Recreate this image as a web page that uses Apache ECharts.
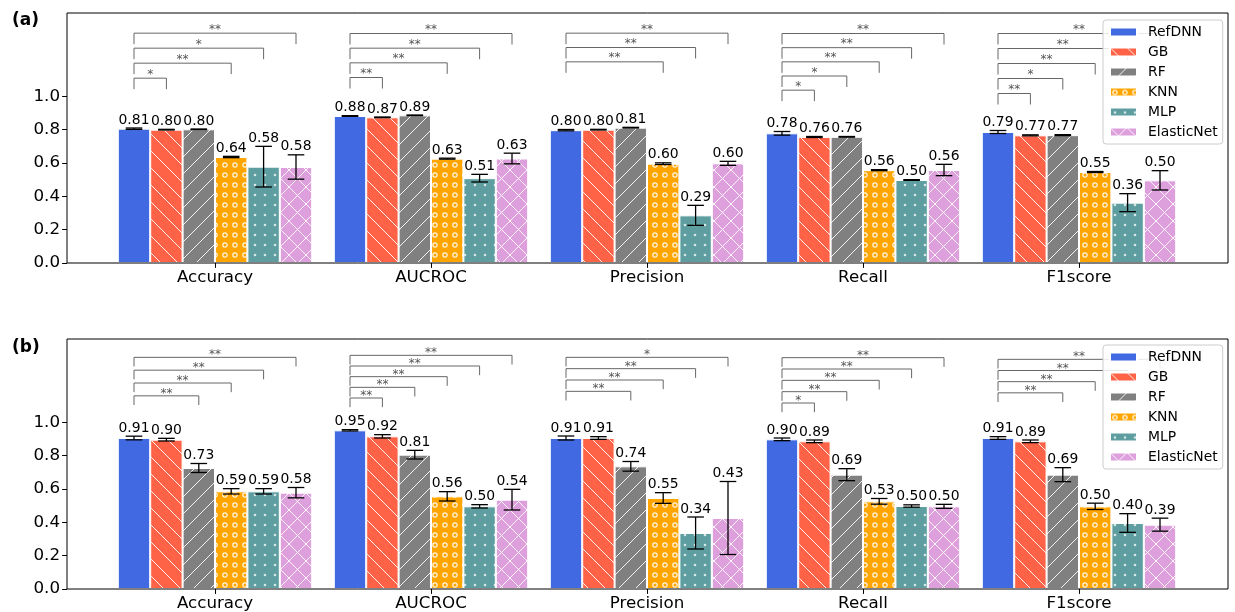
<!DOCTYPE html>
<html>
<head>
<meta charset="utf-8">
<script src="https://cdn.jsdelivr.net/npm/echarts@6/dist/echarts.min.js"></script>
<style>
  html, body { margin: 0; padding: 0; background: #fff; }
  #chart { width: 1235px; height: 612px; }
</style>
</head>
<body>
<div id="chart"></div>
<script>
const categories = ['Accuracy', 'AUCROC', 'Precision', 'Recall', 'F1score'];
const models = ['RefDNN', 'GB', 'RF', 'KNN', 'MLP', 'ElasticNet'];
const yTicks = [0, 0.2, 0.4, 0.6, 0.8, 1.0];

// panel (a) means and errors, one array per model (metric order as categories)
const aRefDNN = [0.806, 0.882, 0.797, 0.778, 0.786];
const aGB = [0.800, 0.874, 0.800, 0.756, 0.766];
const aRF = [0.802, 0.886, 0.812, 0.757, 0.767];
const aKNN = [0.636, 0.626, 0.596, 0.557, 0.546];
const aMLP = [0.578, 0.509, 0.286, 0.498, 0.362];
const aEN = [0.576, 0.627, 0.598, 0.558, 0.496];
const aRefDNNErr = [0.004, 0.002, 0.004, 0.011, 0.009];
const aGBErr = [0.002, 0.002, 0.002, 0.003, 0.003];
const aRFErr = [0.002, 0.002, 0.002, 0.002, 0.003];
const aKNNErr = [0.004, 0.003, 0.005, 0.003, 0.003];
const aMLPErr = [0.122, 0.023, 0.060, 0.002, 0.054];
const aENErr = [0.073, 0.032, 0.012, 0.034, 0.058];

// panel (b)
const bRefDNN = [0.906, 0.952, 0.906, 0.898, 0.906];
const bGB = [0.896, 0.916, 0.906, 0.886, 0.886];
const bRF = [0.726, 0.806, 0.736, 0.686, 0.686];
const bKNN = [0.586, 0.556, 0.546, 0.526, 0.496];
const bMLP = [0.586, 0.496, 0.336, 0.498, 0.396];
const bEN = [0.578, 0.536, 0.426, 0.496, 0.386];
const bRefDNNErr = [0.011, 0.004, 0.012, 0.008, 0.008];
const bGBErr = [0.008, 0.010, 0.008, 0.008, 0.008];
const bRFErr = [0.027, 0.026, 0.029, 0.036, 0.042];
const bKNNErr = [0.016, 0.028, 0.032, 0.017, 0.019];
const bMLPErr = [0.016, 0.010, 0.096, 0.007, 0.056];
const bENErr = [0.031, 0.062, 0.219, 0.012, 0.039];

// significance brackets: RefDNN vs model index, with stars
const aSigTargets = [[1, 3, 4, 5], [1, 3, 4, 5], [3, 4, 5], [1, 2, 3, 4, 5], [1, 2, 3, 4, 5]];
const aSigStars = [['*', '**', '*', '**'], ['**', '**', '**', '**'], ['**', '**', '**'],
  ['*', '*', '**', '**', '**'], ['**', '*', '**', '**', '**']];
const aSigTop = [1.379, 1.377, 1.379, 1.377, 1.377];
const aSigStep = [0.090, 0.088, 0.086, 0.085, 0.090];

const bSigTargets = [[2, 3, 4, 5], [1, 2, 3, 4, 5], [2, 3, 4, 5], [1, 2, 3, 4, 5], [2, 3, 4, 5]];
const bSigStars = [['**', '**', '**', '**'], ['**', '**', '**', '**', '**'], ['**', '**', '**', '*'],
  ['*', '**', '**', '**', '**'], ['**', '**', '**', '**']];
const bSigTop = [1.390, 1.402, 1.390, 1.388, 1.378];
const bSigStep = [0.077, 0.064, 0.068, 0.068, 0.067];

const FONT = 'DejaVu Sans';
const BAR_FRAC = 0.15;

function pattern(bg, size, draw) {
  const c = document.createElement('canvas');
  c.width = size;
  c.height = size;
  const ctx = c.getContext('2d');
  ctx.fillStyle = bg;
  ctx.fillRect(0, 0, size, size);
  ctx.strokeStyle = 'rgba(255,255,255,0.9)';
  ctx.fillStyle = 'rgba(255,255,255,0.75)';
  ctx.lineWidth = 1;
  draw(ctx, size);
  return { image: c, repeat: 'repeat' };
}
const back = (ctx, s) => {
  ctx.beginPath();
  [-s, 0, s].forEach(k => { ctx.moveTo(k, 0); ctx.lineTo(k + s, s); });
  ctx.stroke();
};
const fwd = (ctx, s) => {
  ctx.beginPath();
  [-s, 0, s].forEach(k => { ctx.moveTo(k, s); ctx.lineTo(k + s, 0); });
  ctx.stroke();
};

const fills = [
  '#4169E1',
  pattern('#FF6347', 17, back),
  pattern('#808080', 17, fwd),
  pattern('#FFA500', 10, (ctx, s) => {
    ctx.lineWidth = 1.2;
    ctx.beginPath(); ctx.arc(s / 2, s / 2, 2.2, 0, Math.PI * 2); ctx.stroke();
  }),
  pattern('#5F9EA0', 10, (ctx, s) => {
    ctx.beginPath(); ctx.arc(s / 2, s / 2, 1.3, 0, Math.PI * 2); ctx.fill();
  }),
  pattern('#DDA0DD', 17, (ctx, s) => { back(ctx, s); fwd(ctx, s); })
];

const panels = [
  { means: [aRefDNN, aGB, aRF, aKNN, aMLP, aEN], errs: [aRefDNNErr, aGBErr, aRFErr, aKNNErr, aMLPErr, aENErr],
    sigT: aSigTargets, sigS: aSigStars, sigTop: aSigTop, sigStep: aSigStep, legH: 0.066, starDy: -3.5 },
  { means: [bRefDNN, bGB, bRF, bKNN, bMLP, bEN], errs: [bRefDNNErr, bGBErr, bRFErr, bKNNErr, bMLPErr, bENErr],
    sigT: bSigTargets, sigS: bSigStars, sigTop: bSigTop, sigStep: bSigStep, legH: 0.055, starDy: -2 }
];
const tops = [13, 339];

const grid = [];
const xAxis = [];
const yAxis = [];
const series = [];
const legend = [];
const graphic = [];

panels.forEach((p, pi) => {
  grid.push({ left: 107, right: 48, top: tops[pi], height: 250 });
  xAxis.push({
    type: 'category', gridIndex: pi, data: categories,
    axisLine: { show: false },
    axisTick: { show: true, alignWithLabel: true, length: 4.9, lineStyle: { color: '#000', width: 1 } },
    axisLabel: { fontFamily: FONT, fontSize: 16.7, color: '#000', margin: 6 }
  });
  yAxis.push({
    type: 'value', gridIndex: pi, min: 0, max: 1.5, offset: 40,
    splitLine: { show: false },
    axisLine: { show: false },
    axisTick: { show: true, length: 4.9, customValues: yTicks, lineStyle: { color: '#000', width: 1 } },
    axisLabel: { fontFamily: FONT, fontSize: 16.7, color: '#000', margin: 7, customValues: yTicks,
      formatter: v => v.toFixed(1) }
  });

  models.forEach((m, si) => {
    series.push({
      name: m, type: 'bar', xAxisIndex: pi, yAxisIndex: pi,
      data: p.means[si], barWidth: '15%', barGap: '0%',
      itemStyle: { color: fills[si], borderColor: '#fff', borderWidth: 1 }
    });
  });

  // error bars and value labels
  const errData = [];
  categories.forEach((c, ci) => {
    models.forEach((m, si) => errData.push([ci, si, p.means[si][ci], p.errs[si][ci]]));
  });
  series.push({
    type: 'custom', xAxisIndex: pi, yAxisIndex: pi, z: 5, silent: true,
    encode: { x: 0, y: 2 }, data: errData,
    renderItem: (params, api) => {
      const ci = api.value(0), si = api.value(1), v = api.value(2), e = api.value(3);
      const bw = api.size([1, 0])[0] * BAR_FRAC;
      const x = api.coord([ci, v])[0] + (si - 2.5) * bw;
      const yHi = api.coord([ci, v + e])[1];
      const yLo = api.coord([ci, v - e])[1];
      const cap = 8.3;
      const st = { stroke: '#000', lineWidth: 1.3 };
      return {
        type: 'group', children: [
          { type: 'line', shape: { x1: x, y1: yHi, x2: x, y2: yLo }, style: st },
          { type: 'line', shape: { x1: x - cap, y1: yHi, x2: x + cap, y2: yHi }, style: st },
          { type: 'line', shape: { x1: x - cap, y1: yLo, x2: x + cap, y2: yLo }, style: st },
          { type: 'text', x: x, y: yHi - 1,
            style: { text: v.toFixed(2), fill: '#000', font: '13.9px ' + FONT,
              textAlign: 'center', textVerticalAlign: 'bottom' } }
        ]
      };
    }
  });

  // significance brackets
  const sigData = [];
  const sigText = [];
  p.sigT.forEach((targets, ci) => {
    const n = targets.length;
    targets.forEach((t, k) => {
      sigData.push([ci, t, p.sigTop[ci] - (n - 1 - k) * p.sigStep[ci]]);
      sigText.push(p.sigS[ci][k]);
    });
  });
  series.push({
    type: 'custom', xAxisIndex: pi, yAxisIndex: pi, z: 3, silent: true,
    encode: { x: 0, y: 2 }, data: sigData,
    renderItem: (params, api) => {
      const ci = api.value(0), t = api.value(1), lvl = api.value(2);
      const bw = api.size([1, 0])[0] * BAR_FRAC;
      const cx = api.coord([ci, lvl])[0];
      const x1 = cx - 2.5 * bw;
      const x2 = cx + (t - 2.5) * bw;
      const yTop = api.coord([ci, lvl])[1];
      const yBase = api.coord([ci, lvl - p.legH])[1];
      return {
        type: 'group', children: [
          { type: 'polyline', shape: { points: [[x1, yBase], [x1, yTop], [x2, yTop], [x2, yBase]] },
            style: { stroke: '#666', lineWidth: 1, fill: null } },
          { type: 'text', x: (x1 + x2) / 2, y: yTop + p.starDy,
            style: { text: sigText[params.dataIndex], fill: '#555', font: '12px ' + FONT,
              textAlign: 'center', textVerticalAlign: 'middle' } }
        ]
      };
    }
  });

  legend.push({
    data: models, orient: 'vertical', left: 1103, top: tops[pi] + 7 + pi * -1,
    icon: 'rect', itemWidth: 27, itemHeight: 9, itemGap: 6,
    padding: [5, 5, 5, 6],
    backgroundColor: 'rgba(255,255,255,0.85)', borderColor: '#ccc', borderWidth: 1, borderRadius: 3,
    textStyle: { fontFamily: FONT, fontSize: 13.9, color: '#000', lineHeight: 14, padding: [0, 0, 0, 6] },
    selectedMode: false, z: 10
  });
});

// frames (axes boxes)
tops.forEach(t => {
  grid.push({ left: 67, right: 7, top: t, height: 250, show: true, z: 3,
    backgroundColor: 'transparent', borderColor: '#000', borderWidth: 1 });
});

graphic.push({ type: 'text', left: 12, top: 12, style: { text: '(a)', font: 'bold 17px ' + FONT, fill: '#000' } });
graphic.push({ type: 'text', left: 12, top: 339, style: { text: '(b)', font: 'bold 17px ' + FONT, fill: '#000' } });

const chart = echarts.init(document.getElementById('chart'));
chart.setOption({
  animation: false,
  backgroundColor: '#fff',
  grid, xAxis, yAxis, series, legend, graphic
});
</script>
</body>
</html>
